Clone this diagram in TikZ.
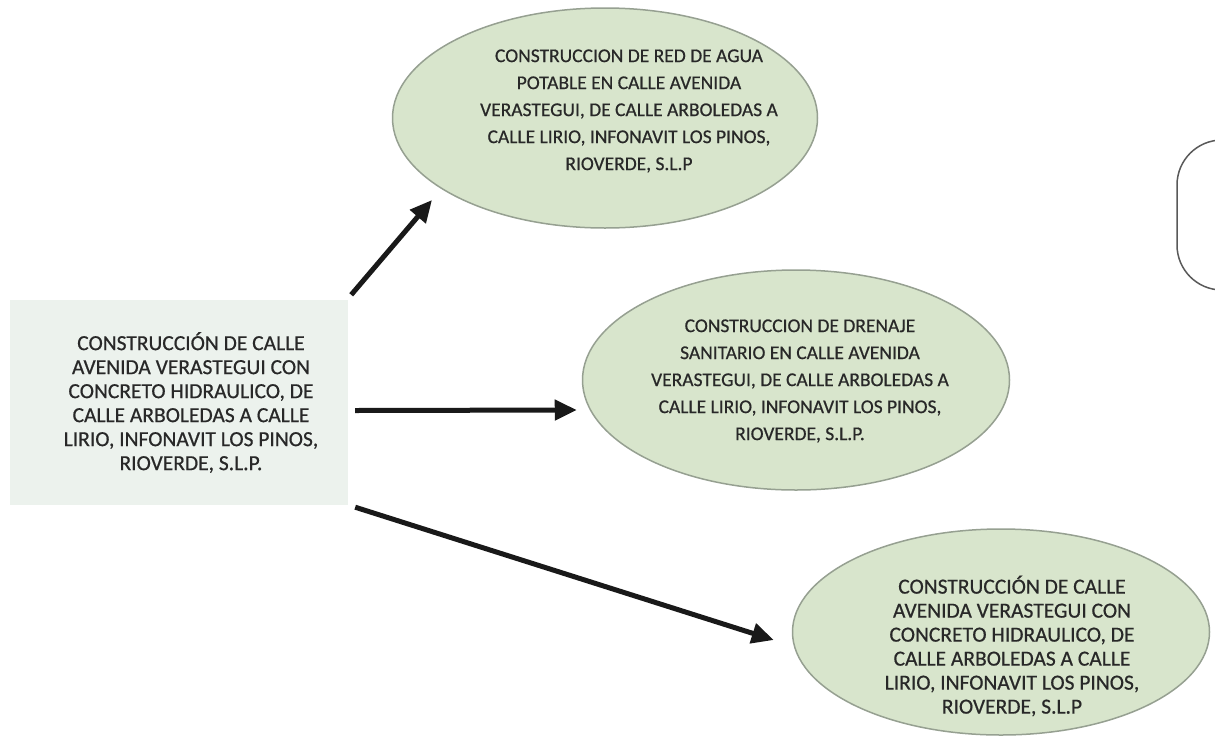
\documentclass[tikz,border=0pt]{standalone}
\usepackage{fontspec}
\setmainfont[FakeBold=0.6]{Carlito}
\usetikzlibrary{shapes.geometric,arrows.meta,calc}
\definecolor{ovalfill}{RGB}{216,229,204}
\definecolor{ovalline}{RGB}{150,160,145}
\definecolor{boxfill}{RGB}{236,242,237}
\definecolor{txtcol}{RGB}{40,40,40}
\begin{document}
\begin{tikzpicture}[x=1pt,y=-1pt,
  oval/.style={ellipse, draw=ovalline, fill=ovalfill, line width=1.5pt, inner sep=0pt},
  bigtxt/.style={align=center, text=txtcol, inner sep=0pt, font=\fontsize{21.5}{24}\selectfont},
  smalltxt/.style={align=center, text=txtcol, inner sep=0pt, font=\fontsize{19.5}{27}\selectfont},
  arr/.style={line width=5pt, draw=black!90, -{Triangle[length=22pt,width=20pt]}}]
\useasboundingbox (0,0) rectangle (1215,753);
\fill[white] (0,0) rectangle (1215,753);

% source box
\node[fill=boxfill, minimum width=338pt, minimum height=205pt, inner sep=0pt] (box) at (179,402.5) {};
\node[bigtxt] (boxtxt) at ($(box.center)+(12,0)$) {CONSTRUCCIÓN DE CALLE\\AVENIDA VERASTEGUI CON\\CONCRETO HIDRAULICO, DE\\CALLE ARBOLEDAS A CALLE\\LIRIO, INFONAVIT LOS PINOS,\\RIOVERDE, S.L.P.};

% ellipses
\node[oval, minimum width=425pt, minimum height=220pt] (e1) at (605,118) {};
\node[smalltxt] (e1txt) at ($(e1.center)+(24,-7)$) {CONSTRUCCION DE RED DE AGUA\\POTABLE EN CALLE AVENIDA\\VERASTEGUI, DE CALLE ARBOLEDAS A\\CALLE LIRIO, INFONAVIT LOS PINOS,\\RIOVERDE, S.L.P};

\node[oval, minimum width=427pt, minimum height=220pt] (e2) at (796,380) {};
\node[smalltxt] (e2txt) at ($(e2.center)+(4,1)$) {CONSTRUCCION DE DRENAJE\\SANITARIO EN CALLE AVENIDA\\VERASTEGUI, DE CALLE ARBOLEDAS A\\CALLE LIRIO, INFONAVIT LOS PINOS,\\RIOVERDE, S.L.P.};

\node[oval, minimum width=417pt, minimum height=206pt] (e3) at (1001,632) {};
\node[bigtxt] (e3txt) at ($(e3.center)+(11,14)$) {CONSTRUCCIÓN DE CALLE\\AVENIDA VERASTEGUI CON\\CONCRETO HIDRAULICO, DE\\CALLE ARBOLEDAS A CALLE\\LIRIO, INFONAVIT LOS PINOS,\\RIOVERDE, S.L.P};

% partial outline at the right edge
\begin{scope}
\clip (0,0) rectangle (1215,753);
\node[draw=black!65, line width=1.5pt, rounded corners=45pt, minimum width=240pt, minimum height=150pt, inner sep=0pt] (partial) at (1297,215) {};
\end{scope}

% arrows
\draw[arr] ($(box.north east)+(3,-5)$) -- ($(e1.center)+(-173,82)$);
\draw[arr] ($(box.east)+(7,8)$) -- ($(e2.west)+(-5,30)$);
\draw[arr] ($(box.south east)+(7,2)$) -- ($(e3.west)+(-18,8)$);
\end{tikzpicture}
\end{document}
